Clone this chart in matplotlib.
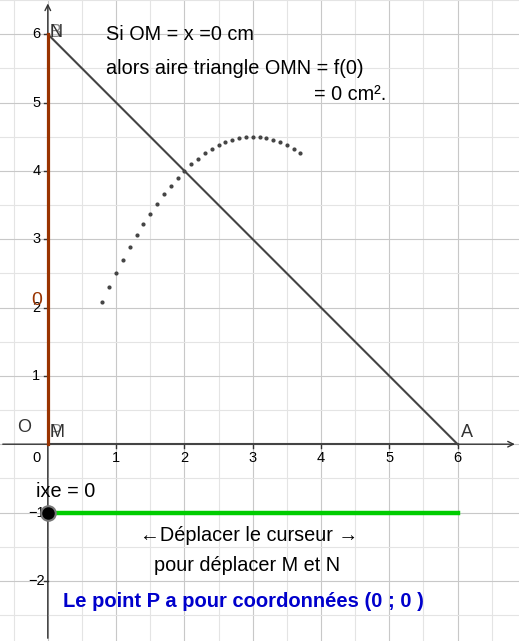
import matplotlib.pyplot as plt
import numpy as np

plt.rcParams['font.family'] = ['Liberation Sans', 'DejaVu Sans']

# locus points of P (x, area)
dot_x = [0.8, 0.9, 1.0, 1.1, 1.2, 1.3, 1.4, 1.5, 1.6, 1.7, 1.8, 1.9, 2.0, 2.1, 2.2,
         2.3, 2.4, 2.5, 2.6, 2.7, 2.8, 2.9, 3.0, 3.1, 3.2, 3.3, 3.4, 3.5, 3.6, 3.7]
dot_y = [2.08, 2.295, 2.5, 2.695, 2.88, 3.055, 3.22, 3.375, 3.52, 3.655, 3.78, 3.895, 4.0, 4.095, 4.18,
         4.255, 4.32, 4.375, 4.42, 4.455, 4.48, 4.495, 4.5, 4.495, 4.48, 4.455, 4.42, 4.375, 4.32, 4.255]
x_ticks = [1, 2, 3, 4, 5, 6]
y_ticks = [-2, -1, 1, 2, 3, 4, 5, 6]

fig = plt.figure(figsize=(5.19, 6.41), dpi=100)
ax = fig.add_axes([0, 0, 1, 1])
ax.set_xlim(-0.70, 6.90)
ax.set_ylim(-2.88, 6.50)
ax.axis('off')

# grid
for g in np.arange(-0.5, 7.0, 0.5):
    ax.axvline(g, color='#e4e4e4' if g % 1 else '#c8c8c8', lw=0.8, zorder=0)
for g in np.arange(-2.5, 6.6, 0.5):
    ax.axhline(g, color='#e4e4e4' if g % 1 else '#c8c8c8', lw=0.8, zorder=0)

# axes with arrows
ax.annotate('', xy=(6.88, 0), xytext=(-0.70, 0),
            arrowprops=dict(arrowstyle='->', color='#333333', lw=1))
ax.annotate('', xy=(0, 6.49), xytext=(0, -2.88),
            arrowprops=dict(arrowstyle='->', color='#333333', lw=1))
for t in x_ticks:
    ax.plot([t, t], [0, -0.05], color='#333333', lw=1)
    ax.text(t, -0.2, str(t), ha='center', va='center', fontsize=10.5)
for t in y_ticks:
    ax.plot([0, -0.05], [t, t], color='#333333', lw=1)
    ax.text(-0.17, t, str(t).replace('-', '\u2212'), ha='center', va='center', fontsize=10.5)
ax.text(-0.17, -0.2, '0', ha='center', va='center', fontsize=10.5)

# figure elements
ax.plot([0, 6], [6, 0], color='#444444', lw=1.5, zorder=3)
ax.plot([0, 0], [0, 6], color='#993300', lw=2.3, zorder=4)
ax.plot([0, 6], [0, 0], color='#444444', lw=1.5, zorder=3)
ax.scatter(dot_x, dot_y, s=4, color='#444444', zorder=5)

ax.text(0.02, 6.03, 'N', fontsize=13, ha='left', va='center', color='#333333')
ax.text(0.02, 6.03, 'B', fontsize=13, ha='left', va='center', color='#333333', alpha=0.6)
ax.text(0.02, 0.17, 'M', fontsize=13, ha='left', va='center', color='#333333')
ax.text(0.02, 0.17, 'P', fontsize=13, ha='left', va='center', color='#333333', alpha=0.6)
ax.text(-0.45, 0.25, 'O', fontsize=13, ha='left', va='center', color='#333333')
ax.text(6.05, 0.17, 'A', fontsize=13, ha='left', va='center', color='#333333')
ax.text(-0.24, 2.1, '0', fontsize=14, ha='left', va='center', color='#993300')

fs = 14.3
ax.text(0.85, 5.99, 'Si OM = x =0 cm', fontsize=fs, va='center')
ax.text(0.85, 5.50, 'alors aire triangle OMN = f(0)', fontsize=fs, va='center')
ax.text(3.9, 5.11, '= 0 cm².', fontsize=fs, va='center')

# slider
ax.plot([0, 6], [-1, -1], color='#00cc00', lw=3.2, zorder=3)
ax.scatter([0], [-1], s=110, color='black', edgecolor='#777777', lw=1.5, zorder=6)
ax.text(-0.17, -0.69, 'ixe = 0', fontsize=fs, va='center')
ax.text(2.95, -1.33, '\u2190Déplacer le curseur \u2192', fontsize=fs, ha='center', va='center')
ax.text(2.92, -1.77, 'pour déplacer M et N', fontsize=fs, ha='center', va='center')
ax.text(2.86, -2.3, 'Le point P a pour coordonnées (0 ; 0 )', fontsize=14.5,
        ha='center', va='center', color='#0000cc', fontweight='bold')

fig.savefig('out.png', dpi=100)
